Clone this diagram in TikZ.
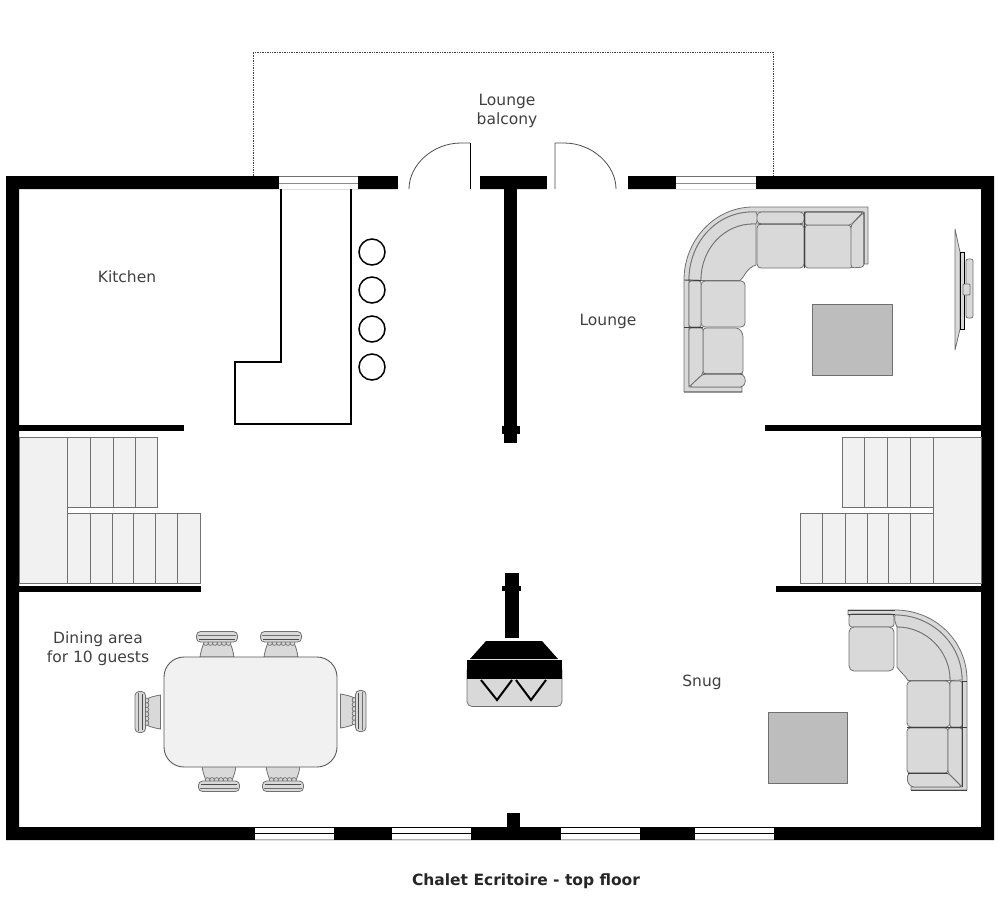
\documentclass[tikz,border=0pt]{standalone}
\usepackage{fontspec}
\setmainfont{DejaVu Sans}
\definecolor{sofa}{HTML}{D9D9D9}
\definecolor{tread}{HTML}{F1F1F1}
\definecolor{edge}{HTML}{707070}
\definecolor{rug}{HTML}{BDBDBD}
\definecolor{labelc}{HTML}{404040}
\tikzset{
 wall/.style={fill=black,draw=none},
 winw/.style={fill=white,draw=none},
 stairs/.style={fill=tread,draw=edge,line width=.8pt},
 sofapart/.style={fill=sofa,draw=edge,line width=.8pt,line join=round},
 sofaline/.style={draw=black!75,line width=.9pt},
 rugbox/.style={fill=rug,draw=edge,line width=.8pt},
 doorline/.style={draw=black!70,line width=.8pt},
 room/.style={text=labelc,font=\fontsize{15.5}{19}\selectfont,align=center,inner sep=0pt},
 stool/.style={circle,draw=black,line width=1.5pt,fill=white,minimum size=26pt,inner sep=0pt},
 pics/chair/.style={code={
   \draw[sofapart] (-17,0) .. controls (-16,-6) and (-15,-10) .. (-13,-14) -- (13,-14) .. controls (15,-10) and (16,-6) .. (17,0) -- cycle;
   \foreach \k in {-11,-6.5,-2,2.5,7,11.5} \draw[edge,line width=.7pt,fill=sofa] (\k,-14) circle (2.4);
   \draw[sofapart,rounded corners=4pt] (-20.5,-25.5) rectangle (20.5,-15);
   \draw[edge,line width=.6pt] (-19,-22) -- (19,-22);
   \draw[black!70,line width=.6pt] (-18,-18) -- (18,-18);
 }},
}
\begin{document}
\begin{tikzpicture}[x=1pt,y=-1pt]
\useasboundingbox (0,0) rectangle (1000,914);
% balcony
\draw[densely dotted,line width=.7pt,black!75] (253,176) -- (253,52) -- (773,52) -- (773,176);
% outer walls
\fill[wall,even odd rule] (6,176) rectangle (994,840) (19,189) rectangle (981,827);
% door openings
\fill[white] (398,175) rectangle (480,190);
\fill[white] (547,175) rectangle (628,190);
% top windows
\foreach \a/\b in {279/358,676/756}{
 \fill[winw] (\a,177) rectangle (\b,188.5);
 \draw[edge,line width=1pt] (\a,176.5) -- (\b,176.5);
 \draw[black!45,line width=1pt] (\a,183) -- (\b,183);
}
% bottom windows
\foreach \a/\b in {255/334,392/471,561/640,695/774}{
 \fill[winw] (\a,827.5) rectangle (\b,840);
 \draw[black,line width=1pt] (\a,833.5) -- (\b,833.5);
 \draw[black!30,line width=1pt] (\a,839.5) -- (\b,839.5);
}
% doors
\draw[doorline] (409,189) .. controls (409,165.3) and (432.3,143) .. (461,143) -- (470.5,143);
\draw[black,line width=1pt] (470.5,143) -- (470.5,189);
\draw[doorline] (555,189) -- (555,143) -- (564,143) .. controls (592.7,143) and (616,165.3) .. (616,189);
% interior walls
\fill[wall] (504,189) rectangle (517,443);
\fill[wall] (502,426) rectangle (520,434);
\fill[wall] (507,813) rectangle (520,827);
\fill[wall] (19,425) rectangle (184,431);
\fill[wall] (19,586) rectangle (201,592);
\fill[wall] (765,425) rectangle (981,431);
\fill[wall] (776,586) rectangle (981,592);
% kitchen counter
\draw[black,line width=2pt,line join=miter] (280.5,189) -- (280.5,361.5) -- (235,361.5) -- (235,424) -- (351,424) -- (351,189);
\node[stool] (s1) at (372,252) {};
\node[stool] (s2) at (372,290) {};
\node[stool] (s3) at (372,329) {};
\node[stool] (s4) at (372,367) {};
% left stairs
\draw[stairs] (19,437) rectangle (67.5,583.5);
\draw[stairs] (67.5,437) rectangle (157,507);
\foreach \x in {90,113,135} \draw[edge,line width=.8pt] (\x,437) -- (\x,507);
\draw[stairs] (67.5,513) rectangle (200,583.5);
\foreach \x in {90,112,133,155,177} \draw[edge,line width=.8pt] (\x,513) -- (\x,583.5);
% right stairs
\draw[stairs] (933,437) rectangle (981,583.5);
\draw[stairs] (842,437) rectangle (933,507);
\foreach \x in {864,887,910} \draw[edge,line width=.8pt] (\x,437) -- (\x,507);
\draw[stairs] (800,513) rectangle (933,583.5);
\foreach \x in {822,845,867,888,910} \draw[edge,line width=.8pt] (\x,513) -- (\x,583.5);
% dining
\pic[rotate=0] at (217,657) {chair};
\pic[rotate=0] at (281,657) {chair};
\pic[rotate=180] at (219,766) {chair};
\pic[rotate=180] at (283,766) {chair};
\pic[rotate=90] at (160.5,712) {chair};
\pic[rotate=-90] at (340.5,711) {chair};
\draw[fill=tread,draw=black!65,line width=.9pt,rounded corners=20pt] (164,657) rectangle (337,767);
% chimney and stove
\fill[wall] (505,573) rectangle (519,638);
\fill[wall] (502,586) rectangle (521,591);
\fill[wall] (486,641) -- (542,641) -- (558,659) -- (470,659) -- cycle;
\draw[fill=sofa,draw=edge,line width=.8pt,rounded corners=5pt] (467,665) -- (467,706.5) -- (562,706.5) -- (562,665) -- cycle;
\fill[wall] (467,660) rectangle (562,679);
\draw[black,line width=2pt] (481,680) -- (497,700) -- (512,680);
\draw[black,line width=2pt] (516,680) -- (531,700) -- (546,680);
% lounge sofa
\draw[sofapart] (868,207) -- (753,207) .. controls (715,207) and (684,240) .. (684,280) -- (684,392) -- (742,392) -- (742,387) -- (689,387) -- (689,280) .. controls (689,242) and (717,212) .. (752,212) -- (864,212) -- (864,264) -- (868,264) -- cycle;
\draw[sofapart] (756,212) -- (752,212) .. controls (717,212) and (689,242) .. (689,280) -- (701,280.5) .. controls (701,249) and (724,224) .. (753,224) -- (756,224) .. controls (758,220) and (758,216) .. (756,212);
\draw[sofapart] (756,224) -- (753,224) .. controls (724,224) and (701,249) .. (701,280) -- (701,280.5) -- (740,280.5) .. controls (744,278) and (746,268) .. (756,265) -- cycle;
\draw[sofapart,rounded corners=4pt] (757,224) -- (804,224) -- (804,268) -- (757,268) -- cycle;
\draw[sofapart,rounded corners=4pt] (757,212) -- (804,212) -- (804,224) -- (757,224) -- cycle;
\draw[sofapart,rounded corners=3pt] (805,225) -- (851,225) -- (853,268) -- (805,268) -- cycle;
\draw[sofapart,rounded corners=2pt] (805,212) -- (863,212) -- (851,225) -- (805,225) -- cycle;
\draw[sofapart,rounded corners=3pt] (851,225) -- (864,212) -- (864,267) -- (851,268) -- cycle;
\draw[sofapart,rounded corners=4pt] (701,281) -- (745,281) -- (745,327) -- (701,327) -- cycle;
\draw[sofapart,rounded corners=2pt] (689,281) -- (701,281) -- (701,327) -- (689,327) -- cycle;
\draw[sofapart,rounded corners=3pt] (703,328) -- (739,328) -- (743,334) -- (743,374) -- (703,374) -- cycle;
\draw[sofapart,rounded corners=2pt] (689,328) -- (703,328) -- (703,374) -- (689,387) -- cycle;
\draw[sofapart,rounded corners=3pt] (703,374) -- (743,374) -- (746,381) -- (743,387) -- (689,387) -- cycle;
\draw[sofaline] (684,280) -- (701,280.5) (684,327.5) -- (703,327.5) (703,374) -- (743,374) (684,392) -- (742,392) (804.5,212) -- (804.5,268) (757,224) -- (804,224) (805,212) -- (863,212) (864,212) -- (864,264);
% lounge rug
\draw[rugbox] (812,304) rectangle (892,375);
% TV
\draw[sofapart] (955,229) -- (960,252) -- (960,329) -- (955,350) -- cycle;
\draw[fill=sofa,draw=black,line width=.9pt] (960,252) rectangle (964,329);
\draw[sofapart,rounded corners=2pt] (966,259) rectangle (973,318);
\draw[sofapart,rounded corners=1pt] (963,284) rectangle (970,295);
% snug sofa
\draw[sofapart] (848,610) -- (895,610) .. controls (935,610) and (967,641) .. (967,680) -- (967,790) -- (911,790) -- (911,787) -- (962,787) -- (962,680) .. controls (962,644) and (932,615) .. (895,615) -- (848,615) -- cycle;
\draw[sofapart] (895,615) .. controls (932,615) and (962,644) .. (962,680) -- (950,680.5) .. controls (950,651) and (926,627) .. (897,627) .. controls (895,622) and (894,620) .. (895,615);
\draw[sofapart] (897,627) .. controls (926,627) and (950,651) .. (950,680) -- (950,680.5) -- (908,680.5) .. controls (905,675) and (900,672) .. (897,667) -- cycle;
\draw[sofapart,rounded corners=3pt] (849,614) -- (894,614) -- (894,627) -- (849,627) -- cycle;
\draw[sofapart,rounded corners=5pt] (849,627) -- (894,627) -- (894,671) -- (849,671) -- cycle;
\draw[sofapart,rounded corners=4pt] (907,681) -- (950,681) -- (950,727) -- (907,727) -- cycle;
\draw[sofapart,rounded corners=2pt] (950,681) -- (962,681) -- (962,727) -- (950,727) -- cycle;
\draw[sofapart,rounded corners=3pt] (907,728) -- (948,728) -- (948,773) -- (907,773) -- cycle;
\draw[sofapart,rounded corners=2pt] (948,728) -- (962,728) -- (962,787) -- (948,773) -- cycle;
\draw[sofapart,rounded corners=3pt] (908,773) -- (948,773) -- (962,787) -- (911,787) -- (907,781) -- cycle;
\draw[sofaline] (848,614) -- (895,614) (848,610) -- (895,610) (962,681) -- (967,681) (907,727.5) -- (967,727.5) (908,773) -- (948,773) (911,790) -- (967,790) (962,681) -- (962,787);
% snug rug
\draw[rugbox] (768,712) rectangle (847,783);
% labels
\node[room] (lb) at (507,111) {Lounge\\balcony};
\node[room] (ki) at (127,277) {Kitchen};
\node[room] (lo) at (608,321) {Lounge};
\node[room] (di) at (98,648.5) {Dining area\\for 10 guests};
\node[room] (sn) at (702,682) {Snug};
\node[inner sep=0pt,font=\fontsize{15.5}{16}\selectfont\bfseries,text=black!85] (ti) at (526,881.5) {Chalet Ecritoire - top floor};
\end{tikzpicture}
\end{document}
